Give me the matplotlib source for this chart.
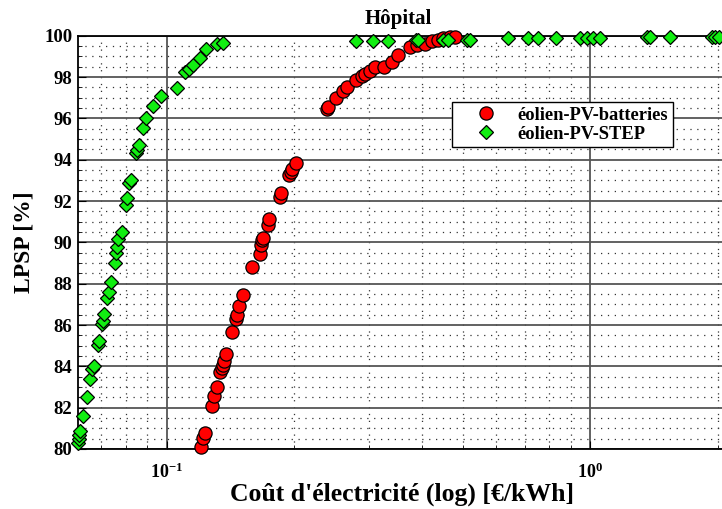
import matplotlib
matplotlib.use("Agg")
import matplotlib.pyplot as plt
from matplotlib.ticker import FixedLocator, NullFormatter, FixedFormatter, MultipleLocator
import numpy as np

plt.rcParams['font.family'] = ['Liberation Serif', 'DejaVu Serif']
plt.rcParams['font.weight'] = 'bold'
plt.rcParams['mathtext.fontset'] = 'custom'
plt.rcParams['mathtext.rm'] = 'Liberation Serif:bold'
plt.rcParams['mathtext.it'] = 'Liberation Serif:bold'
plt.rcParams['mathtext.bf'] = 'Liberation Serif:bold'

# éolien-PV-batteries : coût (€/kWh) et LPSP (%)
cout_batteries = [0.1206, 0.1221, 0.1233, 0.1282, 0.1297, 0.1313, 0.1337, 0.1349,
                  0.1361, 0.1369, 0.1379, 0.1429, 0.1456, 0.1464, 0.1483, 0.1518,
                  0.1594, 0.1659, 0.1671, 0.1682, 0.1692, 0.1738, 0.1745, 0.1852,
                  0.1859, 0.1949, 0.1967, 0.1981, 0.2021, 0.2386, 0.2399, 0.2511,
                  0.2612, 0.2669, 0.2799, 0.2887, 0.2938, 0.3020, 0.3102, 0.3258,
                  0.3398, 0.3521, 0.3752, 0.3891, 0.4071, 0.4221, 0.4376, 0.4496,
                  0.4662, 0.4791]
lpsp_batteries = [80.11, 80.52, 80.76, 82.08, 82.56, 82.98, 83.74, 83.90,
                  84.06, 84.27, 84.60, 85.68, 86.27, 86.48, 86.92, 87.45,
                  88.82, 89.42, 89.87, 90.11, 90.22, 90.84, 91.11, 92.21,
                  92.37, 93.26, 93.42, 93.53, 93.82, 96.45, 96.53, 96.98,
                  97.31, 97.53, 97.87, 98.06, 98.16, 98.30, 98.47, 98.47,
                  98.71, 99.08, 99.43, 99.56, 99.59, 99.72, 99.80, 99.88,
                  99.93, 99.96]

# éolien-PV-STEP : coût (€/kWh) et LPSP (%)
cout_step = [0.06194, 0.06217, 0.06227, 0.06252, 0.06365, 0.06483, 0.06611, 0.06662,
             0.06734, 0.06893, 0.06920, 0.07034, 0.07071, 0.07133, 0.07239, 0.07306,
             0.07397, 0.07547, 0.07589, 0.07629, 0.07696, 0.07839, 0.08011, 0.08080,
             0.08170, 0.08232, 0.08473, 0.08532, 0.08597, 0.08816, 0.08947, 0.09309,
             0.09721, 0.1060, 0.1108, 0.1132, 0.1157, 0.1199, 0.1239, 0.1313,
             0.1361, 0.2794, 0.3064, 0.3336, 0.3878, 0.3926, 0.4480, 0.4621,
             0.5105, 0.5196, 0.6376, 0.7132, 0.7507, 0.8292, 0.9445, 0.9795,
             1.0153, 1.0529, 1.357, 1.381, 1.540, 1.931, 1.966, 2.013]
lpsp_step = [80.28, 80.47, 80.68, 80.87, 81.61, 82.53, 83.39, 83.87,
             84.00, 85.03, 85.21, 86.05, 86.19, 86.53, 87.32, 87.61,
             88.06, 88.98, 89.50, 89.79, 90.14, 90.48, 91.80, 92.16,
             92.85, 93.01, 94.33, 94.47, 94.71, 95.51, 96.03, 96.61,
             97.08, 97.48, 98.25, 98.37, 98.58, 98.90, 99.34, 99.58,
             99.63, 99.76, 99.76, 99.76, 99.77, 99.77, 99.78, 99.78,
             99.78, 99.78, 99.90, 99.90, 99.90, 99.90, 99.90, 99.90,
             99.90, 99.90, 99.92, 99.92, 99.92, 99.94, 99.94, 99.94]

y_ticks = [80, 82, 84, 86, 88, 90, 92, 94, 96, 98, 100]
x_major = [0.1, 1.0]
x_major_labels = [r'$10^{-1}$', r'$10^{0}$']
x_minor = [0.07, 0.08, 0.09, 0.2, 0.3, 0.4, 0.5, 0.6, 0.7, 0.8, 0.9, 2.0]

W, H = 722, 509
fig = plt.figure(figsize=(W / 100, H / 100), dpi=100)
ax_left, ax_right, ax_top, ax_bot = 77.7, 740.0, 35.7, 449.0
ax = fig.add_axes([ax_left / W, 1 - ax_bot / H, (ax_right - ax_left) / W,
                   (ax_bot - ax_top) / H])

ax.set_xscale('log')
ax.set_xlim(0.0617, 2.253)
ax.set_ylim(80, 100)

# grille : traits pleins aux graduations principales, pointillés aux secondaires
ax.set_axisbelow(True)
ax.xaxis.set_major_locator(FixedLocator(x_major))
ax.xaxis.set_major_formatter(FixedFormatter(x_major_labels))
ax.xaxis.set_minor_locator(FixedLocator(x_minor))
ax.xaxis.set_minor_formatter(NullFormatter())
ax.yaxis.set_major_locator(FixedLocator(y_ticks))
ax.yaxis.set_minor_locator(MultipleLocator(0.5))
ax.grid(True, which='major', color='#555555', linestyle='-', linewidth=1.3)
ax.grid(True, which='minor', color='#333333', linestyle=(0, (1, 4.5)), linewidth=0.9)

ax.tick_params(axis='both', which='both', direction='in', top=False, right=False)
ax.tick_params(axis='x', which='major', length=6, pad=10, labelsize=13)
ax.tick_params(axis='x', which='minor', length=3)
ax.tick_params(axis='y', which='major', length=6, pad=4, labelsize=13.5)
ax.tick_params(axis='y', which='minor', length=3)
for lbl in ax.get_yticklabels():
    lbl.set_fontweight('bold')

for s in ax.spines.values():
    s.set_linewidth(1.3)
    s.set_color('black')

ax.plot(cout_batteries, lpsp_batteries, linestyle='none', marker='o', ms=9.5,
        mfc='#ff0000', mec='black', mew=0.9, label='éolien-PV-batteries',
        clip_on=False, zorder=3)
ax.plot(cout_step, lpsp_step, linestyle='none', marker='D', ms=7.4,
        mfc='#11ee11', mec='black', mew=0.9, label='éolien-PV-STEP',
        clip_on=False, zorder=4)

leg = ax.legend(loc='upper left', bbox_to_anchor=((452 - ax_left) / (ax_right - ax_left),
                                                  (ax_bot - 102) / (ax_bot - ax_top)),
                frameon=True, fancybox=False, edgecolor='black', framealpha=1,
                prop={'weight': 'bold', 'size': 13.3}, borderpad=0.25,
                handletextpad=0.1, handlelength=3.2, labelspacing=0.12,
                borderaxespad=0)
leg.get_frame().set_linewidth(1.0)

fig.text(398 / W, 1 - 19 / H, 'Hôpital', ha='center', va='center',
         fontsize=15, fontweight='bold')
fig.text(401.5 / W, 1 - 494 / H, "Coût d'électricité (log) [€/kWh]",
         ha='center', va='center', fontsize=18.5, fontweight='bold')
ax.set_ylabel('LPSP [%]', fontsize=17, fontweight='bold', labelpad=7)

fig.savefig('out.png', dpi=100)
